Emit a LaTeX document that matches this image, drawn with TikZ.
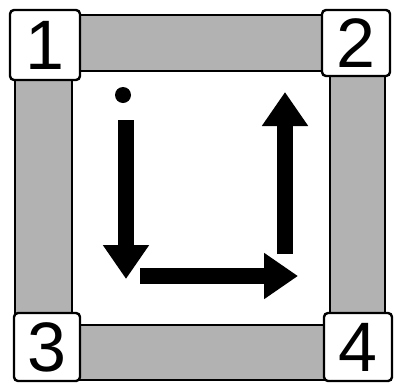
\documentclass[tikz,border=0pt]{standalone}
\usepackage{fontspec}
\setmainfont{Liberation Sans}
\usetikzlibrary{arrows.meta}
\tikzset{
  cornerbox/.style = {draw=black, line width=1.2pt, fill=white, rounded corners=2pt,
                      inner sep=0pt, font=\fontsize{35}{35}\selectfont},
  barfill/.style   = {draw=black, line width=1pt, fill=black!30},
  movearr/.style   = {-{Triangle[length=17pt,width=22pt]}, line width=8pt}
}

\begin{document}
\begin{tikzpicture}[x=0.5pt,y=-0.5pt]
  \useasboundingbox (0,0) rectangle (395,386);
  % bars between the corners
  \draw[barfill] (78,15)  rectangle (326,71);
  \draw[barfill] (15,78)  rectangle (72,318);
  \draw[barfill] (330,73) rectangle (385,320);
  \draw[barfill] (78,325) rectangle (326,380);
  % corner boxes
  \node[cornerbox,minimum width=35pt,minimum height=35pt] (c1) at (45,45)   {1};
  \node[cornerbox,minimum width=34pt,minimum height=33pt] (c2) at (356,43)  {2};
  \node[cornerbox,minimum width=33pt,minimum height=34pt] (c3) at (47,347)  {3};
  \node[cornerbox,minimum width=34pt,minimum height=34pt] (c4) at (358,347) {4};
  % path through the square
  \node[circle,fill=black,minimum size=8pt,inner sep=0pt] (start) at (123,95) {};
  \coordinate (p1) at (126,120);
  \coordinate (p2) at (126,279);
  \coordinate (p3) at (140,276);
  \coordinate (p4) at (298,276);
  \coordinate (p5) at (285,254);
  \coordinate (p6) at (285,92);
  \draw[movearr] (p1) -- (p2);
  \draw[movearr] (p3) -- (p4);
  \draw[movearr] (p5) -- (p6);
\end{tikzpicture}
\end{document}
